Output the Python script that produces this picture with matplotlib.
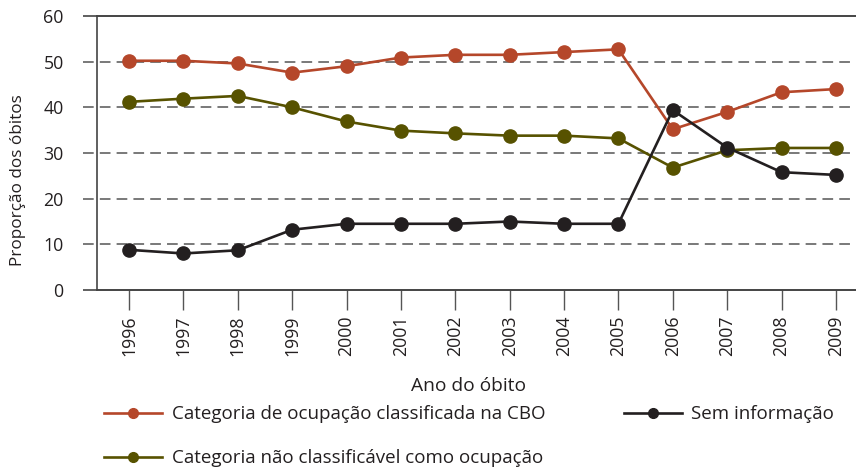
import numpy as np
import matplotlib
matplotlib.use("Agg")
import matplotlib.pyplot as plt

years = list(range(1996, 2010))
cbo = [50.2, 50.2, 49.6, 47.6, 49.0, 50.9, 51.5, 51.5, 52.1, 52.7, 35.2, 39.0, 43.3, 44.0]
nao_class = [41.2, 41.9, 42.5, 40.0, 36.9, 34.9, 34.3, 33.8, 33.8, 33.2, 26.8, 30.6, 31.1, 31.1]
sem_info = [8.8, 8.0, 8.7, 13.2, 14.5, 14.5, 14.5, 15.0, 14.5, 14.5, 39.4, 31.2, 25.8, 25.2]

labels = [
    "Categoria de ocupação classificada na CBO",
    "Categoria não classificável como ocupação",
    "Sem informação",
]
colors = ["#b5472a", "#575200", "#231f20"]
y_ticks = [0, 10, 20, 30, 40, 50, 60]

plt.rcParams["font.family"] = ["Open Sans", "DejaVu Sans"]
txt = "#231f20"

fig = plt.figure(figsize=(8.56, 4.69), dpi=100)
ax = fig.add_axes([97 / 856, 1 - 290 / 469, 1 - 97 / 856, (290 - 16) / 469])

for vals, col in zip([cbo, nao_class, sem_info], colors):
    ax.plot(years, vals, color=col, lw=1.9, marker="o", ms=9.5, zorder=3)

ax.set_xlim(1995.41, 2009.37)
ax.set_ylim(0, 60)

# dashed grid that also runs left past the axis like a tick
ax.hlines(y_ticks[1:-1], -0.0185, 1, transform=ax.get_yaxis_transform(),
          colors="#555555", linestyles=(0, (7, 4)), lw=1.1, clip_on=False,
          zorder=1)
ax.hlines([0, 60], -0.0185, 1, transform=ax.get_yaxis_transform(),
          colors="#444444", lw=1.2, clip_on=False, zorder=2)

ax.spines["right"].set_visible(False)
for s in ["left", "top", "bottom"]:
    ax.spines[s].set_color("#444444")
    ax.spines[s].set_linewidth(1.2)

ax.set_yticks(y_ticks)
ax.tick_params(axis="y", length=0, pad=24, labelsize=12.8, labelcolor=txt)
ax.set_xticks(years)
ax.set_xticklabels([str(y) for y in years], rotation=90)
ax.tick_params(axis="x", length=14.5, width=1, color="#555555", pad=4,
               labelsize=12.8, labelcolor=txt)

ax.set_xlabel("Ano do óbito", fontsize=13.8, color=txt)
ax.xaxis.set_label_coords(0.49, -0.318)
ax.set_ylabel("Proporção dos óbitos", fontsize=12.3, color=txt)
ax.yaxis.set_label_coords(-0.093, 0.40)

handles = [
    plt.Line2D([], [], color=c, lw=1.9, marker="o", ms=7) for c in colors
]
fig.legend(handles, labels, ncol=2, loc="upper left",
           bbox_to_anchor=(0.113, 0.152), frameon=False, fontsize=13.5,
           labelcolor=txt, handlelength=3.1, handletextpad=0.5,
           labelspacing=1.38, columnspacing=4.2, borderaxespad=0)

fig.savefig("out.png", dpi=100)
